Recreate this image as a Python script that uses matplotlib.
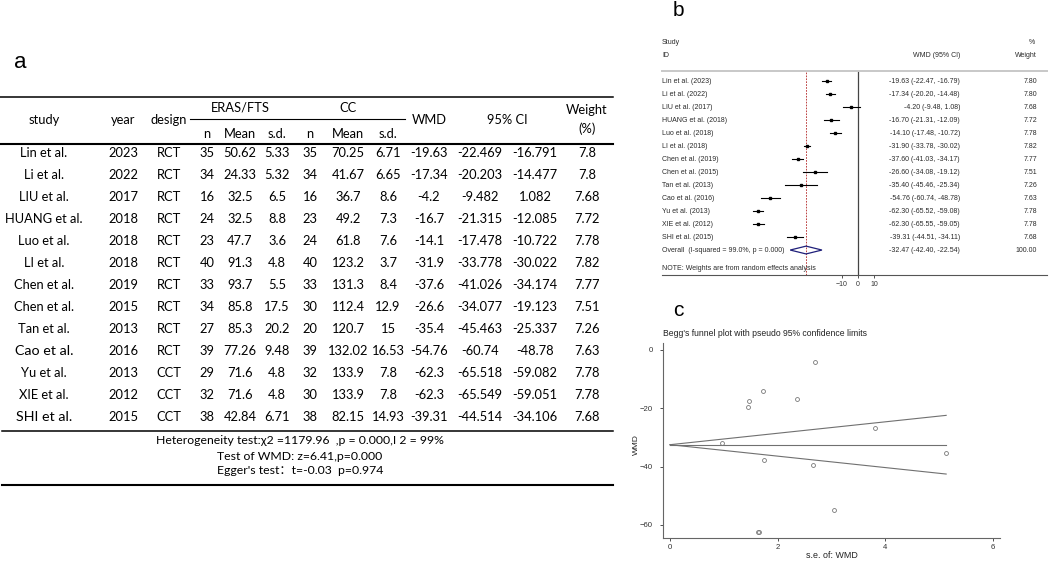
import matplotlib
matplotlib.use('Agg')
import matplotlib.pyplot as plt
from matplotlib.patches import Polygon

# ---------------- data ----------------
studies = ["Lin et al.", "Li et al.", "LIU et al.", "HUANG et al.", "Luo et al.", "LI et al.",
           "Chen et al.", "Chen et al.", "Tan et al.", "Cao et al.", "Yu et al.", "XIE et al.", "SHI et al."]
years = [2023, 2022, 2017, 2018, 2018, 2018, 2019, 2015, 2013, 2016, 2013, 2012, 2015]
designs = ["RCT", "RCT", "RCT", "RCT", "RCT", "RCT", "RCT", "RCT", "RCT", "RCT", "CCT", "CCT", "CCT"]
eras_n = [35, 34, 16, 24, 23, 40, 33, 34, 27, 39, 29, 32, 38]
eras_mean = [50.62, 24.33, 32.5, 32.5, 47.7, 91.3, 93.7, 85.8, 85.3, 77.26, 71.6, 71.6, 42.84]
eras_sd = [5.33, 5.32, 6.5, 8.8, 3.6, 4.8, 5.5, 17.5, 20.2, 9.48, 4.8, 4.8, 6.71]
cc_n = [35, 34, 16, 23, 24, 40, 33, 30, 20, 39, 32, 30, 38]
cc_mean = [70.25, 41.67, 36.7, 49.2, 61.8, 123.2, 131.3, 112.4, 120.7, 132.02, 133.9, 133.9, 82.15]
cc_sd = [6.71, 6.65, 8.6, 7.3, 7.6, 3.7, 8.4, 12.9, 15, 16.53, 7.8, 7.8, 14.93]
wmd = [-19.63, -17.34, -4.2, -16.7, -14.1, -31.9, -37.6, -26.6, -35.4, -54.76, -62.3, -62.3, -39.31]
ci_low = [-22.469, -20.203, -9.482, -21.315, -17.478, -33.778, -41.026, -34.077, -45.463, -60.74,
          -65.518, -65.549, -44.514]
ci_high = [-16.791, -14.477, 1.082, -12.085, -10.722, -30.022, -34.174, -19.123, -25.337, -48.78,
           -59.082, -59.051, -34.106]
weight = [7.8, 7.8, 7.68, 7.72, 7.78, 7.82, 7.77, 7.51, 7.26, 7.63, 7.78, 7.78, 7.68]

forest_lo = [-22.47, -20.20, -9.48, -21.31, -17.48, -33.78, -41.03, -34.08, -45.46, -60.74, -65.52, -65.55, -44.51]
forest_hi = [-16.79, -14.48, 1.08, -12.09, -10.72, -30.02, -34.17, -19.12, -25.34, -48.78, -59.08, -59.05, -34.11]
pooled = -32.47
pooled_lo = -42.40
pooled_hi = -22.54
pooled_weight = 100.00

funnel_se = [1.45, 1.46, 2.70, 2.35, 1.72, 0.96, 1.75, 3.81, 5.13, 3.05, 1.64, 1.66, 2.66]
funnel_x = [0, 5.13]
funnel_upper = [-32.47, -22.41]
funnel_lower = [-32.47, -42.53]

footer = ["Heterogeneity test:χ2 =1179.96  ,p = 0.000,I 2 = 99%",
          "Test of WMD: z=6.41,p=0.000",
          "Egger's test：t=-0.03  p=0.974"]

W, H = 1052, 562
fig = plt.figure(figsize=(W / 100, H / 100), dpi=100)

def fmt(v):
    return f"{v:g}"

# ---------------- panel a: table ----------------
ax_t = fig.add_axes([0, 0, 1, 1])
ax_t.set_xlim(0, W)
ax_t.set_ylim(H, 0)
ax_t.axis('off')
tfam = ['Lato', 'DejaVu Sans', 'Noto Sans CJK SC']
tfs = 9.3

ax_t.text(20, 63, "a", fontsize=16, family='Liberation Sans', ha='center', va='center')

cols = [44, 123, 169, 207, 240, 277, 310, 348, 388, 429, 480, 535, 587]
# header
ax_t.text(cols[0], 120, "study", ha='center', va='center', family=tfam, fontsize=tfs)
ax_t.text(cols[1], 120, "year", ha='center', va='center', family=tfam, fontsize=tfs)
ax_t.text(cols[2], 120, "design", ha='center', va='center', family=tfam, fontsize=tfs)
ax_t.text(240, 108, "ERAS/FTS", ha='center', va='center', family=tfam, fontsize=tfs)
ax_t.text(348, 108, "CC", ha='center', va='center', family=tfam, fontsize=tfs)
for cx, lab in zip(cols[3:9], ["n", "Mean", "s.d.", "n", "Mean", "s.d."]):
    ax_t.text(cx, 134, lab, ha='center', va='center', family=tfam, fontsize=tfs)
ax_t.text(cols[9], 120, "WMD", ha='center', va='center', family=tfam, fontsize=tfs)
ax_t.text(507, 120, "95% CI", ha='center', va='center', family=tfam, fontsize=tfs)
ax_t.text(cols[12], 110, "Weight", ha='center', va='center', family=tfam, fontsize=tfs)
ax_t.text(cols[12], 129, "(%)", ha='center', va='center', family=tfam, fontsize=tfs)

for i in range(len(studies)):
    y = 153 + 22 * i
    vals = [studies[i], str(years[i]), designs[i], str(eras_n[i]), fmt(eras_mean[i]), fmt(eras_sd[i]),
            str(cc_n[i]), fmt(cc_mean[i]), fmt(cc_sd[i]), fmt(wmd[i]), fmt(ci_low[i]), fmt(ci_high[i]),
            fmt(weight[i])]
    for j, (cx, v) in enumerate(zip(cols, vals)):
        fs = tfs
        if j == 0 and studies[i] in ("Cao et al.", "SHI et al."):
            fs = 10.3
        ax_t.text(cx, y, v, ha='center', va='center', family=tfam, fontsize=fs)

for txt, y in zip(footer, [440, 456, 471]):
    ax_t.text(300, y, txt, ha='center', va='center', family=tfam, fontsize=8.8)

ax_t.plot([0, 613], [97, 97], color='k', lw=1.1)
ax_t.plot([190, 405], [119, 119], color='k', lw=0.8)
ax_t.plot([0, 613], [144, 144], color='k', lw=1.5)
ax_t.plot([2, 613], [431, 431], color='k', lw=1.1)
ax_t.plot([2, 613], [485, 485], color='k', lw=1.5)

# ---------------- panel b: forest plot ----------------
ffam = ['Liberation Sans', 'DejaVu Sans']
ffs = 5.0
tcol = '#2a2a2a'
fig.text(678 / W, 1 - 10 / H, "b", fontsize=15, family='Liberation Sans', ha='center', va='center')
ax_f = fig.add_axes([662 / W, 1 - 275 / H, 385 / W, 204 / H])
ax_f.set_xlim(-122.5, 118.1)
ax_f.set_ylim(14.92, -0.77)
for s in ('left', 'right'):
    ax_f.spines[s].set_visible(False)
ax_f.spines['top'].set_color('#c8c8c8')
ax_f.spines['top'].set_linewidth(1.4)
ax_f.spines['bottom'].set_color('#555555')
ax_f.spines['bottom'].set_linewidth(0.8)
ax_f.set_yticks([])
ax_f.set_xticks([-10, 0, 10])
ax_f.tick_params(axis='x', direction='out', length=2.5, width=0.6, labelsize=5.0, pad=1.5,
                 colors='#333333')
for lab in ax_f.get_xticklabels():
    lab.set_family(ffam)

ax_f.axvline(0, color='#444444', lw=0.9, zorder=1)
ax_f.axvline(pooled, color='#b22222', lw=0.6, ls=(0, (2.0, 1.5)), zorder=1)

xl, xci, xw = -122.5, 63.75, 112.0
ax_f.text(xl, -3.0, "Study", fontsize=ffs, family=ffam, ha='left', va='center', color=tcol, clip_on=False)
ax_f.text(xl, -2.0, "ID", fontsize=ffs, family=ffam, ha='left', va='center', color=tcol, clip_on=False)
ax_f.text(xci, -2.0, "WMD (95% CI)", fontsize=ffs, family=ffam, ha='right', va='center', color=tcol, clip_on=False)
ax_f.text(xw - 1.5, -3.0, "%", fontsize=ffs, family=ffam, ha='right', va='center', color=tcol, clip_on=False)
ax_f.text(xw, -2.0, "Weight", fontsize=ffs, family=ffam, ha='right', va='center', color=tcol, clip_on=False)

for i in range(len(studies)):
    ax_f.plot([forest_lo[i], forest_hi[i]], [i, i], color='k', lw=0.8, zorder=3)
    ax_f.plot([wmd[i]], [i], marker='s', ms=2.0, color='k', zorder=4)
    ax_f.text(xl, i, f"{studies[i]} ({years[i]})", fontsize=ffs, family=ffam, ha='left', va='center', color=tcol)
    ax_f.text(xci, i, f"{wmd[i]:.2f} ({forest_lo[i]:.2f}, {forest_hi[i]:.2f})", fontsize=ffs, family=ffam,
              ha='right', va='center', color=tcol)
    ax_f.text(xw, i, f"{weight[i]:.2f}", fontsize=ffs, family=ffam, ha='right', va='center', color=tcol)

yo = 13
dia = Polygon([(pooled_lo, yo), (pooled, yo - 0.3), (pooled_hi, yo), (pooled, yo + 0.3)], closed=True,
              fc='none', ec='#1f1f7a', lw=0.9, zorder=4)
ax_f.add_patch(dia)
ax_f.text(xl, yo, "Overall  (I-squared = 99.0%, p = 0.000)", fontsize=ffs, family=ffam, ha='left', va='center', color=tcol)
ax_f.text(xci, yo, f"{pooled:.2f} ({pooled_lo:.2f}, {pooled_hi:.2f})", fontsize=ffs, family=ffam,
          ha='right', va='center', color=tcol)
ax_f.text(xw, yo, f"{pooled_weight:.2f}", fontsize=ffs, family=ffam, ha='right', va='center', color=tcol)
ax_f.text(xl, 14.4, "NOTE: Weights are from random effects analysis", fontsize=ffs, family=ffam,
          ha='left', va='center', color=tcol)

# ---------------- panel c: funnel plot ----------------
cfs = 5.6
fig.text(678 / W, 1 - 310 / H, "c", fontsize=15, family='Liberation Sans', ha='center', va='center')
ax_c = fig.add_axes([663 / W, 1 - 538 / H, 337 / W, 195 / H])
ax_c.set_xlim(-0.13, 6.13)
ax_c.set_ylim(-64.46, 2.4)
for s in ('top', 'right'):
    ax_c.spines[s].set_visible(False)
for s in ('left', 'bottom'):
    ax_c.spines[s].set_color('#666666')
    ax_c.spines[s].set_linewidth(0.8)
ax_c.set_xticks([0, 2, 4, 6])
ax_c.set_yticks([0, -20, -40, -60])
ax_c.tick_params(axis='both', direction='out', length=2.5, width=0.6, labelsize=cfs, colors='#333333')
ax_c.tick_params(axis='y', pad=5)
ax_c.tick_params(axis='x', pad=2)
for lab in ax_c.get_xticklabels() + ax_c.get_yticklabels():
    lab.set_family(ffam)

ax_c.plot(funnel_x, funnel_upper, color='#707070', lw=0.8)
ax_c.plot(funnel_x, funnel_lower, color='#707070', lw=0.8)
ax_c.plot(funnel_x, [pooled, pooled], color='#707070', lw=0.8)
ax_c.plot(funnel_se, wmd, ls='none', marker='o', ms=2.8, mfc='none', mec='#777777', mew=0.6)

fig.text(663 / W, 1 - 333 / H, "Begg's funnel plot with pseudo 95% confidence limits", fontsize=6.25,
         family=ffam, ha='left', va='center', color='#222222')
fig.text(636 / W, 1 - 445 / H, "WMD", fontsize=6.0, family=ffam, rotation=90, ha='center', va='center', color='#222222')
fig.text(832 / W, 1 - 555 / H, "s.e. of: WMD", fontsize=6.4, family=ffam, ha='center', va='center', color='#222222')

fig.savefig("out.png", dpi=100)
